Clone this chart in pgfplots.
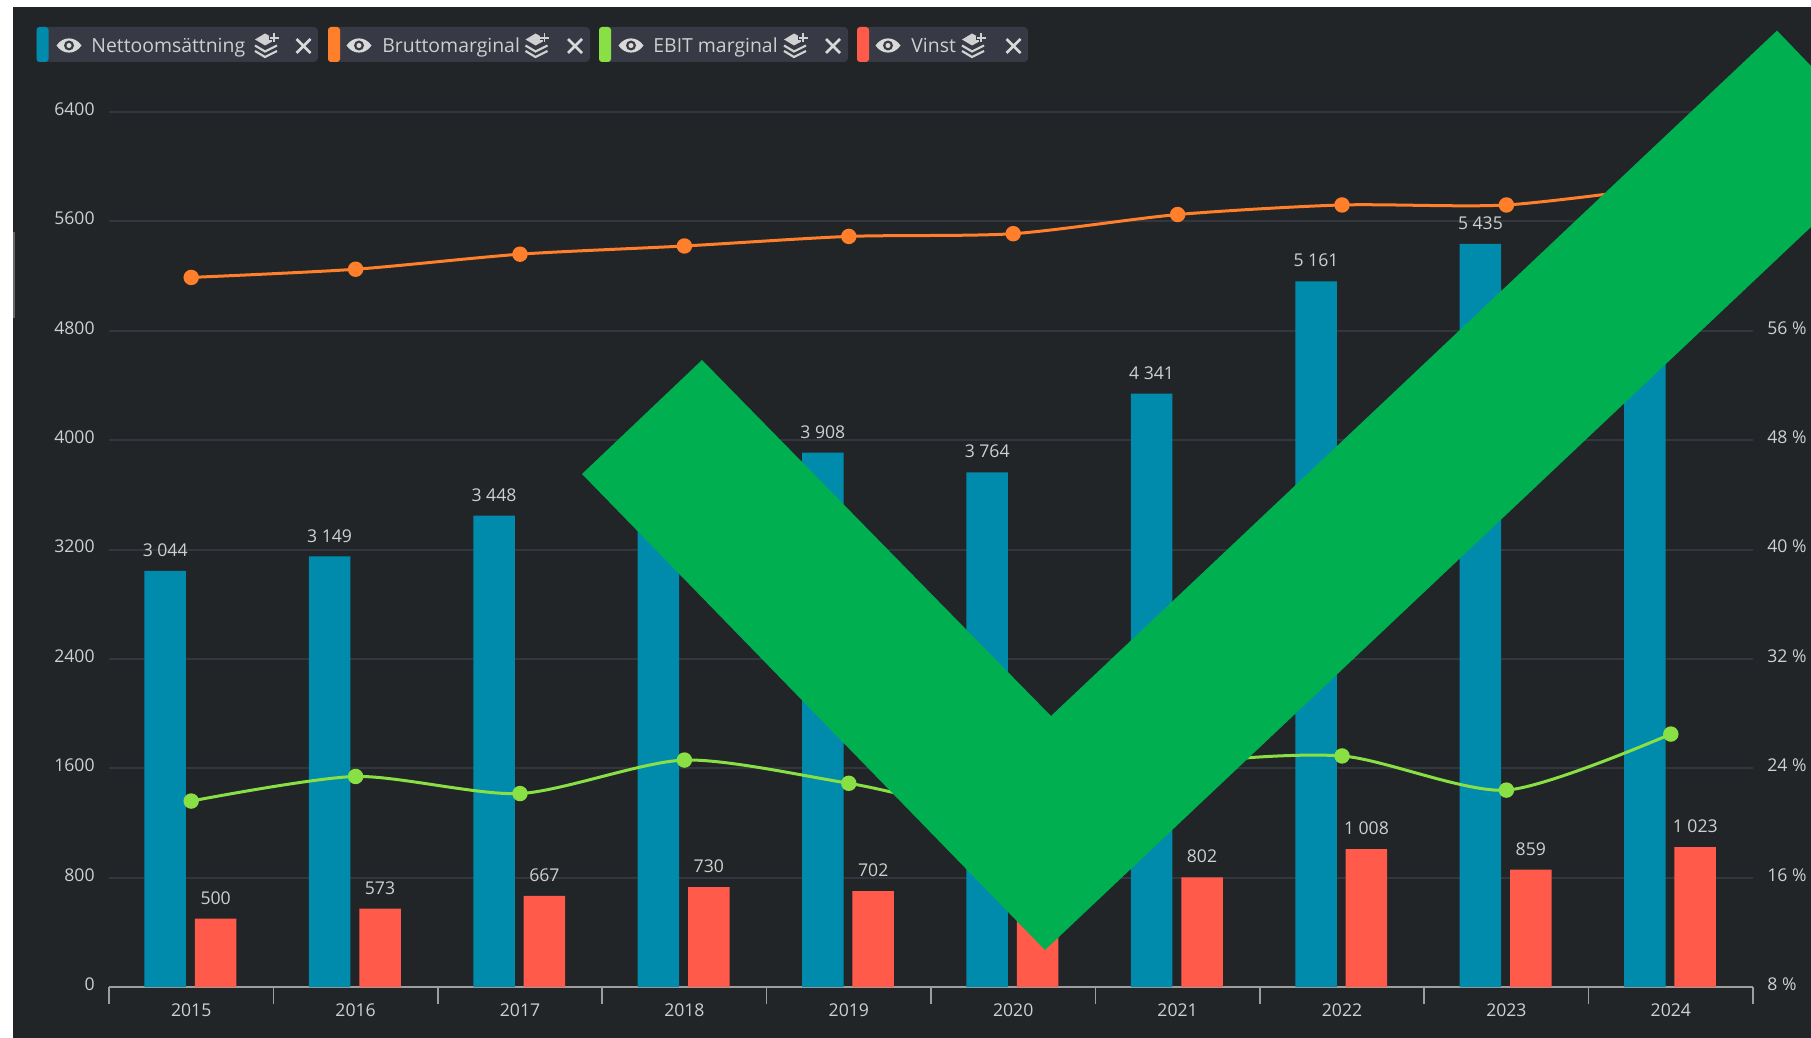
\documentclass[border=0pt]{standalone}
\usepackage{pgfplots}
\pgfplotsset{compat=1.18}
\usepackage{pgfplotstable}
\usepackage{fontspec}
\setmainfont{Open Sans}
\definecolor{bgc}{HTML}{212528}
\definecolor{chip}{HTML}{373A45}
\definecolor{gridc}{HTML}{33363F}
\definecolor{txt}{HTML}{CFCFCF}
\definecolor{axc}{HTML}{9E9E9E}
\definecolor{cblue}{HTML}{008BAC}
\definecolor{corange}{HTML}{FF7F2A}
\definecolor{cgreen}{HTML}{88E044}
\definecolor{cred}{HTML}{FF5A4A}
\definecolor{check}{HTML}{00B050}
\pgfplotstableread{
x netto vinst brutto ebit
0 3044 500 59.9 21.6
1 3149 573 60.5 23.4
2 3448 667 61.6 22.15
3 3680 730 62.2 24.6
4 3908 702 62.9 22.9
5 3764 680 63.1 20.8
6 4341 802 64.5 24.2
7 5161 1008 65.2 24.9
8 5435 859 65.2 22.4
9 5720 1023 66.6 26.5
}\datatable
\newcommand{\eyeicon}[2]{%
  \fill[white!85!black] (#1-12.5,#2) .. controls (#1-6,#2-9.5) and (#1+6,#2-9.5) .. (#1+12.5,#2) .. controls (#1+6,#2+9.5) and (#1-6,#2+9.5) .. (#1-12.5,#2) -- cycle;
  \fill[chip] (#1,#2) circle[radius=5];
  \fill[white!85!black] (#1,#2) circle[radius=2.5];}
\newcommand{\stackicon}[2]{%
  \fill[white!82!black] (#1-2,#2-12) -- (#1+9,#2-6) -- (#1-2,#2) -- (#1-12,#2-6) -- cycle;
  \draw[white!82!black,line width=1.1pt] (#1-12,#2) -- (#1-2,#2+6) -- (#1+10,#2);
  \draw[white!82!black,line width=1.1pt] (#1-12,#2+5.5) -- (#1-2,#2+11.5) -- (#1+10,#2+5.5);
  \draw[chip,line width=2pt] (#1+7,#2-12) -- (#1+7,#2-3) (#1+2,#2-7.5) -- (#1+12,#2-7.5);
  \draw[white!82!black,line width=.9pt] (#1+7,#2-12) -- (#1+7,#2-3) (#1+2.5,#2-7.5) -- (#1+11.5,#2-7.5);}
\newcommand{\xicon}[2]{%
  \draw[white!85!black,line width=1.4pt] (#1-7,#2-7) -- (#1+7,#2+7) (#1-7,#2+7) -- (#1+7,#2-7);}
\newcommand{\chipbox}[8]{%
  \fill[chip,rounded corners=2pt] (#1,27) rectangle (#2,62);
  \fill[#3,rounded corners=1.5pt] (#1,27) rectangle (#1+12,62);
  \eyeicon{#4}{45.5}
  \node[anchor=base west,inner sep=0pt,text=txt,font=\fontsize{9.7}{11}\selectfont] at (#5,52.3) {#6};
  \stackicon{#7}{45.5}
  \xicon{#8}{46}}
\begin{document}
\begin{tikzpicture}[x=.5pt,y=-.5pt]
\fill[white] (0,0) rectangle (1811,1038);
\fill[bgc] (13,7) rectangle (1811,1038);
\fill[black!35!gridc!70!white] (13,232) rectangle (15,318);
\begin{axis}[
  at={(54.5pt,-493.5pt)},anchor=south west,
  scale only axis,width=822pt,height=437.5pt,
  xmin=-0.5,xmax=9.5,ymin=0,ymax=6400,
  axis x line*=bottom,axis y line*=left,
  x axis line style={draw=axc,line width=1pt,-},
  y axis line style={draw=none},
  xtick={0,...,9},xticklabels={2015,2016,2017,2018,2019,2020,2021,2022,2023,2024},
  minor xtick={-0.5,0.5,...,9.5},
  ytick={0,800,...,6400},
  major tick length=0pt,minor tick length=8.5pt,tick align=outside,
  minor tick style={draw=axc,line width=.8pt},
  ymajorgrids,grid style={draw=gridc,line width=1pt},
  /pgf/number format/assume math mode=true,
  /pgf/number format/1000 sep={},
  tick label style={font=\fontsize{8.8}{10}\selectfont,text=txt},
  yticklabel style={inner sep=0pt,xshift=-7pt,yshift=1.4pt},
  xticklabel style={inner sep=0pt,yshift=-8.2pt},
  every node near coord/.append style={font=\fontsize{8.8}{10}\selectfont,text=txt,inner sep=0pt,yshift=7pt,anchor=south,text depth=0pt},
  nodes near coords={\pgfmathprintnumber[fixed,precision=0,1000 sep={\ },assume math mode=true]{\pgfplotspointmeta}},
]
\addplot[ybar,bar width=20.75pt,bar shift=-13pt,fill=cblue,draw=none,every node near coord/.append style={xshift=-13pt}] table[x=x,y=netto]{\datatable};
\addplot[ybar,bar width=20.75pt,bar shift=12.2pt,fill=cred,draw=none,every node near coord/.append style={xshift=12.2pt}] table[x=x,y=vinst]{\datatable};
\end{axis}
\begin{axis}[
  at={(54.5pt,-493.5pt)},anchor=south west,
  scale only axis,width=822pt,height=437.5pt,
  xmin=-0.5,xmax=9.5,ymin=8,ymax=72,
  axis x line=none,axis y line*=right,
  y axis line style={draw=none},
  ytick={8,16,...,72},major tick length=0pt,
  /pgf/number format/assume math mode=true,
  yticklabel={\pgfmathprintnumber{\tick}\ \%},
  tick label style={font=\fontsize{8.8}{10}\selectfont,text=txt},
  yticklabel style={inner sep=0pt,xshift=7pt,yshift=1.4pt},
  clip=false,
]
\addplot[corange,line width=1.5pt,smooth,tension=0.45,mark=*,mark size=3.1pt,mark options={fill=corange,draw=corange}] table[x=x,y=brutto]{\datatable};
\addplot[cgreen,line width=1.5pt,smooth,tension=0.45,mark=*,mark size=3.1pt,mark options={fill=cgreen,draw=cgreen}] table[x=x,y=ebit]{\datatable};
\end{axis}
\chipbox{36.5}{318}{cblue}{69}{91}{Nettoomsättning}{267}{303.5}
\chipbox{328}{590}{corange}{359}{382}{Bruttomarginal}{537.5}{575}
\chipbox{599}{848}{cgreen}{631}{653}{EBIT marginal}{796}{833}
\chipbox{857}{1028}{cred}{888}{911}{Vinst}{974}{1013.5}
\fill[check] (582,474) -- (702,360) -- (1051,716) -- (1777,30.6) -- (1811,66) -- (1811,227) -- (1045,950) -- cycle;
\end{tikzpicture}
\end{document}
